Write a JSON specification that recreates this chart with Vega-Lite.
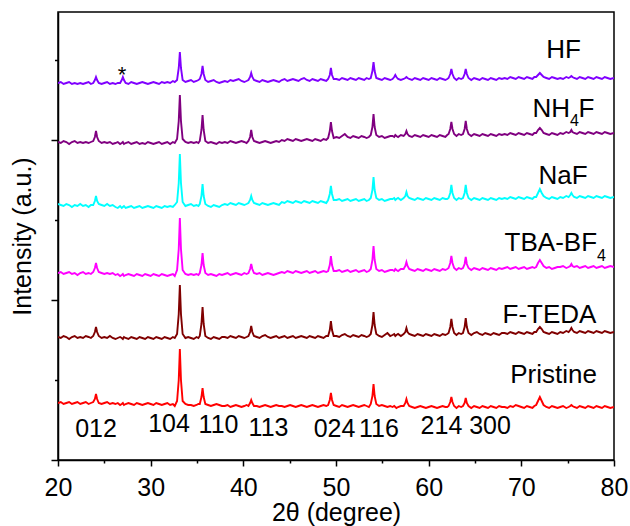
{
"$schema": "https://vega.github.io/schema/vega-lite/v6.json",
"width": 556, "height": 448,
"autosize": {"type": "none"},
"padding": {"left": 58, "top": 12, "right": 16, "bottom": 66},
"config": {"view": {"stroke": "black", "strokeWidth": 1.5}, "font": "Liberation Sans"},
"datasets": {
"xrd": [
{"x":20.0,"a":377,"b":318,"c":256,"d":187,"e":123,"f":57},
{"x":20.3,"a":378,"b":317,"c":255,"d":188,"e":122,"f":58},
{"x":20.6,"a":376,"b":319,"c":254,"d":186,"e":124,"f":56},
{"x":20.9,"a":377,"b":318,"c":256,"d":187,"e":123,"f":57},
{"x":21.2,"a":378,"b":316,"c":255,"d":188,"e":121,"f":58},
{"x":21.5,"a":376,"b":318,"c":253,"d":186,"e":123,"f":56},
{"x":21.8,"a":377,"b":319,"c":255,"d":187,"e":124,"f":57},
{"x":22.1,"a":376,"b":317,"c":254,"d":185,"e":122,"f":58},
{"x":22.4,"a":377,"b":318,"c":256,"d":187,"e":123,"f":56},
{"x":22.7,"a":376,"b":317,"c":254,"d":188,"e":122,"f":57},
{"x":23.0,"a":377,"b":318,"c":255,"d":186,"e":124,"f":58},
{"x":23.3,"a":378,"b":317,"c":253,"d":187,"e":123,"f":56},
{"x":23.55,"a":376,"b":318,"c":255,"d":186,"e":122,"f":57},
{"x":23.8,"a":377,"b":319,"c":255,"d":188,"e":124,"f":58},
{"x":23.98,"a":380,"b":323,"c":259,"d":192,"e":128,"f":61},
{"x":24.1,"a":383,"b":329,"c":264,"d":197,"e":133,"f":66},
{"x":24.22,"a":380,"b":323,"c":259,"d":192,"e":128,"f":61},
{"x":24.4,"a":377,"b":319,"c":256,"d":188,"e":124,"f":57},
{"x":24.7,"a":376,"b":317,"c":255,"d":187,"e":122,"f":56},
{"x":25.0,"a":377,"b":318,"c":254,"d":186,"e":123,"f":57},
{"x":25.3,"a":378,"b":317,"c":256,"d":187,"e":122,"f":58},
{"x":25.6,"a":376,"b":318,"c":254,"d":186,"e":124,"f":56},
{"x":25.9,"a":377,"b":316,"c":255,"d":187,"e":122,"f":57},
{"x":26.2,"a":376,"b":317,"c":253,"d":185,"e":121,"f":56},
{"x":26.45,"a":377,"b":318,"c":252,"d":186,"e":122,"f":57},
{"x":26.7,"a":377,"b":316,"c":254,"d":184,"e":123,"f":55},
{"x":26.88,"a":380,"b":317,"c":252,"d":185,"e":122,"f":56},
{"x":27.0,"a":383,"b":318,"c":253,"d":186,"e":121,"f":57},
{"x":27.12,"a":380,"b":316,"c":254,"d":184,"e":123,"f":55},
{"x":27.3,"a":377,"b":317,"c":252,"d":185,"e":122,"f":56},
{"x":27.6,"a":376,"b":318,"c":253,"d":186,"e":121,"f":57},
{"x":27.9,"a":378,"b":316,"c":254,"d":185,"e":123,"f":56},
{"x":28.2,"a":377,"b":317,"c":252,"d":184,"e":122,"f":55},
{"x":28.5,"a":376,"b":318,"c":253,"d":186,"e":121,"f":57},
{"x":28.8,"a":377,"b":316,"c":254,"d":185,"e":123,"f":56},
{"x":29.1,"a":378,"b":317,"c":252,"d":184,"e":122,"f":55},
{"x":29.4,"a":377,"b":316,"c":253,"d":186,"e":121,"f":56},
{"x":29.7,"a":376,"b":318,"c":254,"d":185,"e":123,"f":57},
{"x":30.0,"a":377,"b":317,"c":253,"d":184,"e":122,"f":56},
{"x":30.3,"a":378,"b":316,"c":252,"d":186,"e":121,"f":55},
{"x":30.6,"a":377,"b":317,"c":254,"d":185,"e":123,"f":57},
{"x":30.9,"a":376,"b":318,"c":253,"d":184,"e":122,"f":56},
{"x":31.2,"a":378,"b":316,"c":252,"d":186,"e":121,"f":55},
{"x":31.5,"a":377,"b":317,"c":254,"d":185,"e":123,"f":56},
{"x":31.8,"a":378,"b":318,"c":253,"d":184,"e":122,"f":57},
{"x":32.1,"a":377,"b":316,"c":254,"d":185,"e":121,"f":55},
{"x":32.4,"a":379,"b":318,"c":253,"d":186,"e":123,"f":56},
{"x":32.6,"a":378,"b":317,"c":255,"d":184,"e":122,"f":54},
{"x":32.85,"a":380,"b":321,"c":258,"d":190,"e":126,"f":59},
{"x":33.03,"a":392,"b":339,"c":277,"d":211,"e":146,"f":80},
{"x":33.15,"a":408,"b":365,"c":306,"d":242,"e":175,"f":111},
{"x":33.27,"a":392,"b":339,"c":277,"d":211,"e":146,"f":80},
{"x":33.45,"a":380,"b":321,"c":258,"d":190,"e":126,"f":59},
{"x":33.75,"a":378,"b":318,"c":254,"d":186,"e":122,"f":56},
{"x":34.05,"a":379,"b":317,"c":255,"d":185,"e":123,"f":55},
{"x":34.35,"a":380,"b":318,"c":256,"d":186,"e":122,"f":55},
{"x":34.65,"a":378,"b":317,"c":254,"d":185,"e":121,"f":54},
{"x":34.95,"a":379,"b":318,"c":255,"d":186,"e":123,"f":55},
{"x":35.15,"a":380,"b":317,"c":254,"d":185,"e":122,"f":56},
{"x":35.3,"a":381,"b":319,"c":256,"d":187,"e":124,"f":56},
{"x":35.48,"a":386,"b":330,"c":264,"d":195,"e":136,"f":63},
{"x":35.6,"a":394,"b":345,"c":276,"d":207,"e":153,"f":72},
{"x":35.72,"a":386,"b":330,"c":264,"d":195,"e":136,"f":63},
{"x":35.9,"a":380,"b":319,"c":256,"d":187,"e":124,"f":56},
{"x":36.2,"a":378,"b":317,"c":254,"d":185,"e":122,"f":55},
{"x":36.5,"a":379,"b":318,"c":253,"d":186,"e":121,"f":54},
{"x":36.8,"a":380,"b":317,"c":255,"d":185,"e":123,"f":55},
{"x":37.1,"a":378,"b":316,"c":254,"d":184,"e":122,"f":56},
{"x":37.4,"a":377,"b":318,"c":253,"d":186,"e":121,"f":55},
{"x":37.7,"a":378,"b":317,"c":255,"d":185,"e":123,"f":54},
{"x":38.0,"a":379,"b":318,"c":256,"d":186,"e":123,"f":54},
{"x":38.3,"a":378,"b":317,"c":255,"d":187,"e":122,"f":55},
{"x":38.6,"a":380,"b":319,"c":257,"d":185,"e":124,"f":53},
{"x":38.9,"a":379,"b":318,"c":256,"d":186,"e":123,"f":54},
{"x":39.2,"a":380,"b":317,"c":255,"d":187,"e":122,"f":55},
{"x":39.5,"a":381,"b":318,"c":257,"d":186,"e":124,"f":54},
{"x":39.8,"a":379,"b":319,"c":256,"d":185,"e":123,"f":53},
{"x":40.1,"a":378,"b":318,"c":255,"d":187,"e":122,"f":54},
{"x":40.35,"a":379,"b":317,"c":256,"d":186,"e":123,"f":55},
{"x":40.55,"a":380,"b":319,"c":257,"d":187,"e":124,"f":54},
{"x":40.73,"a":383,"b":323,"c":260,"d":191,"e":128,"f":57},
{"x":40.85,"a":387,"b":330,"c":264,"d":196,"e":134,"f":60},
{"x":40.97,"a":383,"b":323,"c":260,"d":191,"e":128,"f":57},
{"x":41.15,"a":380,"b":319,"c":257,"d":187,"e":124,"f":54},
{"x":41.45,"a":379,"b":318,"c":256,"d":186,"e":123,"f":54},
{"x":41.75,"a":378,"b":317,"c":255,"d":187,"e":122,"f":53},
{"x":42.05,"a":380,"b":318,"c":257,"d":185,"e":124,"f":54},
{"x":42.35,"a":379,"b":319,"c":256,"d":186,"e":125,"f":55},
{"x":42.65,"a":378,"b":318,"c":255,"d":187,"e":123,"f":54},
{"x":42.95,"a":379,"b":317,"c":256,"d":186,"e":122,"f":53},
{"x":43.25,"a":380,"b":318,"c":257,"d":185,"e":123,"f":54},
{"x":43.55,"a":379,"b":319,"c":256,"d":186,"e":124,"f":55},
{"x":43.85,"a":378,"b":318,"c":255,"d":187,"e":122,"f":54},
{"x":44.15,"a":380,"b":320,"c":258,"d":188,"e":123,"f":54},
{"x":44.45,"a":381,"b":319,"c":257,"d":187,"e":124,"f":53},
{"x":44.75,"a":379,"b":321,"c":259,"d":189,"e":122,"f":54},
{"x":45.05,"a":380,"b":320,"c":258,"d":188,"e":123,"f":55},
{"x":45.35,"a":381,"b":319,"c":257,"d":187,"e":124,"f":54},
{"x":45.65,"a":380,"b":321,"c":259,"d":189,"e":122,"f":53},
{"x":45.95,"a":379,"b":320,"c":258,"d":188,"e":123,"f":54},
{"x":46.25,"a":381,"b":319,"c":257,"d":187,"e":124,"f":55},
{"x":46.55,"a":382,"b":320,"c":259,"d":188,"e":123,"f":54},
{"x":46.85,"a":380,"b":321,"c":258,"d":189,"e":122,"f":53},
{"x":47.15,"a":379,"b":320,"c":257,"d":187,"e":124,"f":54},
{"x":47.45,"a":381,"b":319,"c":259,"d":188,"e":123,"f":55},
{"x":47.75,"a":380,"b":321,"c":258,"d":189,"e":122,"f":54},
{"x":48.05,"a":379,"b":320,"c":257,"d":187,"e":124,"f":53},
{"x":48.35,"a":381,"b":319,"c":259,"d":188,"e":123,"f":54},
{"x":48.65,"a":380,"b":321,"c":258,"d":189,"e":122,"f":55},
{"x":48.95,"a":379,"b":320,"c":257,"d":188,"e":124,"f":54},
{"x":49.15,"a":381,"b":322,"c":260,"d":189,"e":124,"f":55},
{"x":49.33,"a":385,"b":329,"c":266,"d":195,"e":130,"f":60},
{"x":49.45,"a":392,"b":338,"c":274,"d":204,"e":139,"f":67},
{"x":49.57,"a":385,"b":329,"c":266,"d":195,"e":130,"f":60},
{"x":49.75,"a":381,"b":322,"c":260,"d":189,"e":124,"f":55},
{"x":50.05,"a":381,"b":323,"c":260,"d":189,"e":124,"f":54},
{"x":50.35,"a":380,"b":322,"c":261,"d":190,"e":123,"f":53},
{"x":50.65,"a":382,"b":324,"c":259,"d":188,"e":125,"f":55},
{"x":50.95,"a":381,"b":326,"c":260,"d":189,"e":126,"f":54},
{"x":51.25,"a":380,"b":323,"c":261,"d":190,"e":124,"f":53},
{"x":51.55,"a":382,"b":322,"c":259,"d":188,"e":123,"f":54},
{"x":51.85,"a":381,"b":324,"c":260,"d":189,"e":125,"f":55},
{"x":52.15,"a":380,"b":323,"c":261,"d":190,"e":124,"f":54},
{"x":52.45,"a":382,"b":322,"c":259,"d":188,"e":123,"f":53},
{"x":52.75,"a":381,"b":324,"c":260,"d":189,"e":125,"f":54},
{"x":53.05,"a":380,"b":323,"c":261,"d":190,"e":124,"f":55},
{"x":53.3,"a":382,"b":322,"c":259,"d":188,"e":123,"f":54},
{"x":53.55,"a":381,"b":323,"c":260,"d":189,"e":124,"f":53},
{"x":53.75,"a":382,"b":325,"c":262,"d":191,"e":126,"f":56},
{"x":53.93,"a":389,"b":333,"c":270,"d":200,"e":135,"f":64},
{"x":54.05,"a":398,"b":346,"c":283,"d":214,"e":148,"f":76},
{"x":54.17,"a":389,"b":333,"c":270,"d":200,"e":135,"f":64},
{"x":54.35,"a":382,"b":325,"c":262,"d":191,"e":126,"f":56},
{"x":54.65,"a":381,"b":323,"c":260,"d":189,"e":124,"f":54},
{"x":54.95,"a":380,"b":324,"c":261,"d":190,"e":123,"f":55},
{"x":55.25,"a":382,"b":322,"c":259,"d":188,"e":125,"f":54},
{"x":55.55,"a":381,"b":323,"c":260,"d":189,"e":127,"f":53},
{"x":55.85,"a":380,"b":324,"c":261,"d":190,"e":124,"f":54},
{"x":56.1,"a":381,"b":324,"c":261,"d":190,"e":125,"f":53},
{"x":56.28,"a":383,"b":323,"c":262,"d":189,"e":126,"f":54},
{"x":56.4,"a":385,"b":325,"c":260,"d":191,"e":124,"f":53},
{"x":56.52,"a":383,"b":324,"c":261,"d":190,"e":125,"f":52},
{"x":56.7,"a":381,"b":323,"c":262,"d":189,"e":126,"f":53},
{"x":57.0,"a":380,"b":325,"c":260,"d":191,"e":124,"f":54},
{"x":57.3,"a":381,"b":324,"c":262,"d":191,"e":126,"f":54},
{"x":57.48,"a":382,"b":326,"c":264,"d":194,"e":128,"f":57},
{"x":57.6,"a":383,"b":329,"c":268,"d":198,"e":132,"f":61},
{"x":57.72,"a":382,"b":326,"c":264,"d":194,"e":128,"f":57},
{"x":57.9,"a":381,"b":324,"c":262,"d":191,"e":126,"f":54},
{"x":58.2,"a":380,"b":323,"c":261,"d":190,"e":125,"f":53},
{"x":58.5,"a":382,"b":325,"c":260,"d":189,"e":124,"f":52},
{"x":58.8,"a":381,"b":324,"c":262,"d":191,"e":126,"f":53},
{"x":59.1,"a":380,"b":323,"c":261,"d":190,"e":125,"f":54},
{"x":59.4,"a":382,"b":325,"c":260,"d":189,"e":124,"f":53},
{"x":59.7,"a":381,"b":324,"c":262,"d":191,"e":126,"f":52},
{"x":60.0,"a":380,"b":323,"c":261,"d":190,"e":125,"f":53},
{"x":60.3,"a":382,"b":325,"c":260,"d":189,"e":124,"f":54},
{"x":60.6,"a":381,"b":324,"c":262,"d":191,"e":126,"f":53},
{"x":60.9,"a":380,"b":323,"c":261,"d":190,"e":125,"f":52},
{"x":61.2,"a":382,"b":325,"c":260,"d":189,"e":124,"f":53},
{"x":61.5,"a":381,"b":324,"c":262,"d":191,"e":126,"f":54},
{"x":61.8,"a":380,"b":323,"c":261,"d":190,"e":125,"f":53},
{"x":62.0,"a":381,"b":325,"c":261,"d":191,"e":126,"f":53},
{"x":62.15,"a":382,"b":326,"c":262,"d":192,"e":127,"f":54},
{"x":62.33,"a":386,"b":331,"c":267,"d":197,"e":133,"f":58},
{"x":62.45,"a":391,"b":338,"c":275,"d":204,"e":141,"f":63},
{"x":62.57,"a":386,"b":331,"c":267,"d":197,"e":133,"f":58},
{"x":62.75,"a":382,"b":326,"c":262,"d":192,"e":127,"f":54},
{"x":63.0,"a":380,"b":324,"c":260,"d":190,"e":125,"f":52},
{"x":63.25,"a":382,"b":326,"c":262,"d":192,"e":127,"f":54},
{"x":63.5,"a":381,"b":325,"c":261,"d":191,"e":126,"f":53},
{"x":63.7,"a":382,"b":326,"c":262,"d":192,"e":127,"f":54},
{"x":63.88,"a":386,"b":331,"c":267,"d":196,"e":133,"f":57},
{"x":64.0,"a":391,"b":339,"c":275,"d":203,"e":142,"f":62},
{"x":64.12,"a":386,"b":331,"c":267,"d":196,"e":133,"f":57},
{"x":64.3,"a":382,"b":326,"c":262,"d":192,"e":127,"f":54},
{"x":64.6,"a":380,"b":324,"c":260,"d":190,"e":125,"f":52},
{"x":64.9,"a":382,"b":326,"c":262,"d":192,"e":127,"f":54},
{"x":65.2,"a":381,"b":325,"c":261,"d":191,"e":128,"f":53},
{"x":65.5,"a":380,"b":324,"c":260,"d":190,"e":126,"f":52},
{"x":65.8,"a":382,"b":326,"c":262,"d":192,"e":125,"f":54},
{"x":66.1,"a":381,"b":325,"c":261,"d":191,"e":127,"f":53},
{"x":66.4,"a":380,"b":324,"c":260,"d":190,"e":126,"f":52},
{"x":66.7,"a":382,"b":326,"c":262,"d":192,"e":125,"f":54},
{"x":67.0,"a":381,"b":325,"c":261,"d":191,"e":127,"f":53},
{"x":67.3,"a":380,"b":324,"c":260,"d":190,"e":126,"f":52},
{"x":67.6,"a":382,"b":326,"c":262,"d":192,"e":125,"f":54},
{"x":67.9,"a":381,"b":325,"c":261,"d":191,"e":127,"f":53},
{"x":68.2,"a":382,"b":326,"c":262,"d":192,"e":127,"f":53},
{"x":68.5,"a":381,"b":325,"c":261,"d":193,"e":126,"f":52},
{"x":68.8,"a":383,"b":327,"c":263,"d":191,"e":128,"f":54},
{"x":69.1,"a":382,"b":326,"c":262,"d":192,"e":127,"f":53},
{"x":69.4,"a":381,"b":325,"c":261,"d":193,"e":126,"f":55},
{"x":69.7,"a":383,"b":327,"c":263,"d":191,"e":128,"f":54},
{"x":70.0,"a":382,"b":326,"c":262,"d":192,"e":127,"f":53},
{"x":70.3,"a":381,"b":325,"c":261,"d":193,"e":126,"f":52},
{"x":70.6,"a":383,"b":327,"c":263,"d":191,"e":128,"f":54},
{"x":70.9,"a":382,"b":326,"c":262,"d":192,"e":127,"f":53},
{"x":71.2,"a":381,"b":325,"c":261,"d":193,"e":126,"f":52},
{"x":71.4,"a":383,"b":327,"c":263,"d":192,"e":128,"f":54},
{"x":71.6,"a":383,"b":327,"c":263,"d":193,"e":128,"f":55},
{"x":71.8,"a":385,"b":330,"c":267,"d":197,"e":131,"f":59},
{"x":72.0,"a":387,"b":332,"c":271,"d":200,"e":133,"f":63},
{"x":72.2,"a":385,"b":330,"c":267,"d":197,"e":131,"f":59},
{"x":72.4,"a":383,"b":327,"c":264,"d":194,"e":128,"f":55},
{"x":72.7,"a":382,"b":326,"c":262,"d":192,"e":127,"f":53},
{"x":73.0,"a":381,"b":325,"c":261,"d":193,"e":126,"f":52},
{"x":73.3,"a":383,"b":327,"c":263,"d":191,"e":128,"f":54},
{"x":73.6,"a":382,"b":326,"c":262,"d":192,"e":127,"f":53},
{"x":73.9,"a":381,"b":325,"c":261,"d":193,"e":126,"f":52},
{"x":74.2,"a":382,"b":327,"c":263,"d":193,"e":128,"f":53},
{"x":74.5,"a":381,"b":326,"c":262,"d":194,"e":127,"f":54},
{"x":74.85,"a":383,"b":328,"c":264,"d":192,"e":129,"f":52},
{"x":75.1,"a":382,"b":327,"c":263,"d":193,"e":128,"f":53},
{"x":75.28,"a":383,"b":328,"c":265,"d":194,"e":130,"f":54},
{"x":75.4,"a":384,"b":330,"c":267,"d":196,"e":132,"f":55},
{"x":75.52,"a":383,"b":328,"c":265,"d":194,"e":130,"f":54},
{"x":75.7,"a":382,"b":327,"c":263,"d":193,"e":128,"f":53},
{"x":76.0,"a":381,"b":326,"c":262,"d":194,"e":127,"f":52},
{"x":76.3,"a":383,"b":328,"c":264,"d":192,"e":129,"f":54},
{"x":76.6,"a":382,"b":327,"c":263,"d":193,"e":128,"f":53},
{"x":76.9,"a":381,"b":326,"c":262,"d":194,"e":127,"f":52},
{"x":77.2,"a":383,"b":328,"c":264,"d":192,"e":129,"f":54},
{"x":77.5,"a":382,"b":327,"c":263,"d":193,"e":128,"f":53},
{"x":77.8,"a":381,"b":326,"c":262,"d":194,"e":127,"f":52},
{"x":78.1,"a":383,"b":328,"c":264,"d":192,"e":129,"f":54},
{"x":78.4,"a":382,"b":327,"c":263,"d":193,"e":128,"f":53},
{"x":78.7,"a":381,"b":326,"c":262,"d":194,"e":127,"f":52},
{"x":79.0,"a":383,"b":328,"c":264,"d":192,"e":129,"f":54},
{"x":79.3,"a":382,"b":327,"c":263,"d":193,"e":128,"f":53},
{"x":79.6,"a":381,"b":326,"c":262,"d":194,"e":127,"f":52},
{"x":80.0,"a":382,"b":327,"c":263,"d":193,"e":128,"f":53}
],
"labels": [
{"kind":"sample","t":"HF","x":74.55,"v":402},
{"kind":"right","t":"NH","x":75.25,"v":343},
{"kind":"sub","t":"4","x":75.25,"v":334},
{"kind":"left","t":"F","x":76.17,"v":343},
{"kind":"sample","t":"NaF","x":74.5,"v":276},
{"kind":"right","t":"TBA-BF","x":78.17,"v":209},
{"kind":"sub","t":"4","x":78.17,"v":199},
{"kind":"sample","t":"F-TEDA","x":73.04,"v":137},
{"kind":"sample","t":"Pristine","x":73.47,"v":77},
{"kind":"hkl","t":"012","x":24.1,"v":23},
{"kind":"hkl","t":"104","x":31.98,"v":28},
{"kind":"hkl","t":"110","x":37.32,"v":27},
{"kind":"hkl","t":"113","x":42.72,"v":24},
{"kind":"hkl","t":"024","x":49.84,"v":23},
{"kind":"hkl","t":"116","x":54.64,"v":23},
{"kind":"hkl","t":"214","x":61.38,"v":26},
{"kind":"hkl","t":"300","x":66.62,"v":26},
{"kind":"star","t":"*","x":26.91,"v":378.5}
]
},
"encoding": {
"x": {"field": "x", "type": "quantitative", "scale": {"domain": [20, 80], "nice": false, "zero": false},
  "axis": {"values": [20,25,30,35,40,45,50,55,60,65,70,75,80],
    "labelExpr": "datum.value % 10 === 0 ? datum.label : ''",
    "tickSize": {"condition": {"test": "datum.value % 10 === 0", "value": 6}, "value": 3},
    "title": "2θ (degree)", "titleFontSize": 25, "titleFontWeight": "normal", "titleColor": "black",
    "labelFontSize": 25, "labelColor": "black", "labelPadding": 9, "titlePadding": 0,
    "labelFlush": false, "labelOverlap": false, "grid": false,
    "domainColor": "black", "domainWidth": 1.5, "tickColor": "black", "tickWidth": 1.5}},
"y": {"field": "v", "type": "quantitative", "scale": {"domain": [0, 448], "nice": false, "zero": false},
  "axis": {"values": [0,80,160,240,320,400], "labels": false,
    "tickSize": {"condition": {"test": "datum.value % 160 === 0", "value": 7}, "value": 3.5},
    "title": "Intensity (a.u.)", "titleFontSize": 25, "titleFontWeight": "normal", "titleColor": "black",
    "titlePadding": 15, "grid": false,
    "domainColor": "black", "domainWidth": 1.5, "tickColor": "black", "tickWidth": 1.5}}
},
"layer": [
{"data": {"name": "xrd"},
 "transform": [{"fold": ["a","b","c","d","e","f"], "as": ["k","v"]}],
 "mark": {"type": "line", "strokeWidth": 1.9, "clip": true},
 "encoding": {"color": {"field": "k", "type": "nominal",
   "scale": {"domain": ["a","b","c","d","e","f"], "range": ["#8000FF","#800080","#00FFFF","#FF00FF","#800000","#FF0000"]},
   "legend": null}}},
{"data": {"name": "labels"}, "transform": [{"filter": "datum.kind === 'sample'"}],
 "mark": {"type": "text", "fontSize": 26, "align": "center", "baseline": "alphabetic", "color": "black"},
 "encoding": {"text": {"field": "t"}}},
{"data": {"name": "labels"}, "transform": [{"filter": "datum.kind === 'right'"}],
 "mark": {"type": "text", "fontSize": 26, "align": "right", "baseline": "alphabetic", "color": "black"},
 "encoding": {"text": {"field": "t"}}},
{"data": {"name": "labels"}, "transform": [{"filter": "datum.kind === 'left'"}],
 "mark": {"type": "text", "fontSize": 26, "align": "left", "baseline": "alphabetic", "color": "black"},
 "encoding": {"text": {"field": "t"}}},
{"data": {"name": "labels"}, "transform": [{"filter": "datum.kind === 'sub'"}],
 "mark": {"type": "text", "fontSize": 16, "align": "left", "baseline": "alphabetic", "color": "black"},
 "encoding": {"text": {"field": "t"}}},
{"data": {"name": "labels"}, "transform": [{"filter": "datum.kind === 'hkl'"}],
 "mark": {"type": "text", "fontSize": 25, "align": "center", "baseline": "alphabetic", "color": "black"},
 "encoding": {"text": {"field": "t"}}},
{"data": {"name": "labels"}, "transform": [{"filter": "datum.kind === 'star'"}],
 "mark": {"type": "text", "fontSize": 22, "align": "center", "baseline": "alphabetic", "color": "black"},
 "encoding": {"text": {"field": "t"}}}
]
}
